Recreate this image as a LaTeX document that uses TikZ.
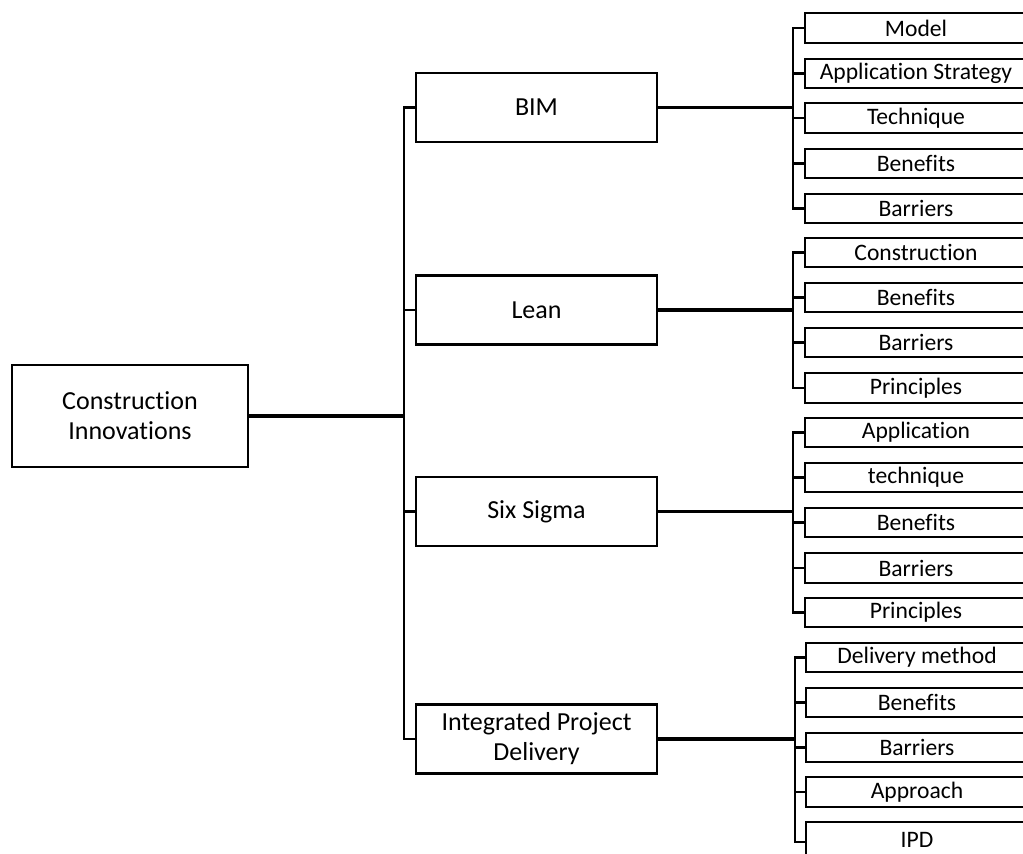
\documentclass[tikz,border=0pt]{standalone}
\usepackage{fontspec}
\setmainfont{Carlito}[Ligatures=NoCommon]
\begin{document}
\begin{tikzpicture}[x=1pt,y=-1pt,
  rootbox/.style={draw,line width=2.4pt,minimum width=236pt,minimum height=102pt,align=center,inner sep=0pt,font=\fontsize{26}{30}\selectfont},
  midbox/.style={draw,line width=2.4pt,minimum width=241pt,minimum height=69pt,align=center,inner sep=0pt,font=\fontsize{26}{30}\selectfont},
  leafbox/.style={draw,line width=2.4pt,minimum width=222pt,minimum height=29.5pt,inner sep=0pt,font=\fontsize{23.6}{28}\selectfont},
  mainline/.style={line width=3.4pt},
  thinline/.style={line width=2.4pt}]
\useasboundingbox (0,0) rectangle (1023,854);
\begin{scope}
\clip (0,0) rectangle (1023,854);
% root
\node[rootbox] (root) at (130,416) {Construction\\Innovations};
% mid
\node[midbox] (bim) at (536.5,107.5) {BIM};
\node[midbox] (lean) at (536.5,310) {Lean};
\node[midbox] (six) at (536.5,511.5) {Six Sigma};
\node[midbox] (ipd) at (536.5,739) {Integrated Project\\Delivery};
% trunk
\coordinate (tr) at (404,416);
\draw[mainline] (root.east) -- (tr);
\draw[thinline] (bim.west) -| (tr);
\draw[thinline] (ipd.west) -| (tr);
\draw[thinline] (lean.west) -- (lean.west -| tr);
\draw[thinline] (six.west) -- (six.west -| tr);
% bracket points
\coordinate (bb) at (793,107.5);
\coordinate (bl) at (793,310);
\coordinate (bs) at (793,511.5);
\coordinate (bi) at (795,739);
\draw[mainline] (bim.east) -- (bb);
\draw[mainline] (lean.east) -- (bl);
\draw[mainline] (six.east) -- (bs);
\draw[mainline] (ipd.east) -- (bi);
% BIM leaves
\node[leafbox] (b1) at (916,28) {Model};
\node[leafbox] (b2) at (916,73.5) {Application Strategy};
\node[leafbox] (b3) at (916,118) {Technique};
\node[leafbox] (b4) at (916,163.5) {Benefits};
\node[leafbox] (b5) at (916,208.5) {Barriers};
\foreach \n in {b1,b2,b3,b4,b5} \draw[thinline] (\n.west) -| (bb);
% Lean leaves
\node[leafbox] (l1) at (916,252.5) {Construction};
\node[leafbox] (l2) at (916,297.5) {Benefits};
\node[leafbox] (l3) at (916,342.5) {Barriers};
\node[leafbox] (l4) at (916,388) {Principles};
\foreach \n in {l1,l2,l3,l4} \draw[thinline] (\n.west) -| (bl);
% Six Sigma leaves
\node[leafbox] (s1) at (916,432.5) {Application};
\node[leafbox] (s2) at (916,477.5) {technique};
\node[leafbox] (s3) at (916,522.5) {Benefits};
\node[leafbox] (s4) at (916,568) {Barriers};
\node[leafbox] (s5) at (916,612.5) {Principles};
\foreach \n in {s1,s2,s3,s4,s5} \draw[thinline] (\n.west) -| (bs);
% IPD leaves
\node[leafbox] (i1) at (917,657.5) {Delivery method};
\node[leafbox] (i2) at (917,702.5) {Benefits};
\node[leafbox] (i3) at (917,747.5) {Barriers};
\node[leafbox] (i4) at (917,792) {Approach};
\node[leafbox,minimum height=36pt] (i5) at (917,840) {IPD};
\foreach \n in {i1,i2,i3,i4} \draw[thinline] (\n.west) -| (bi);
\draw[thinline] ([yshift=-2pt]i5.west) -| (bi);
\end{scope}
\end{tikzpicture}
\end{document}
